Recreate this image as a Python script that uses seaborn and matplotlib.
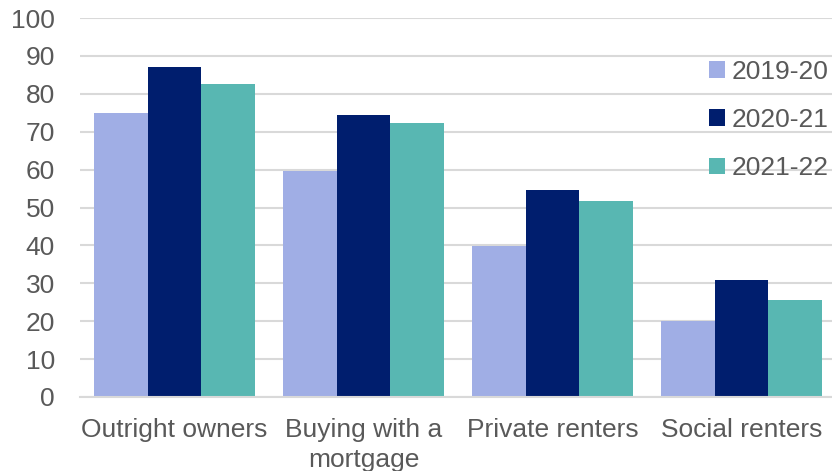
import matplotlib
matplotlib.use("Agg")
import matplotlib.pyplot as plt
import seaborn as sns
import pandas as pd
from matplotlib.patches import Patch

categories = ["Outright owners", "Buying with a\nmortgage", "Private renters", "Social renters"]
years = ["2019-20", "2020-21", "2021-22"]
v2019 = [75.0, 59.6, 39.8, 20.0]
v2020 = [87.0, 74.5, 54.6, 30.9]
v2021 = [82.6, 72.4, 51.8, 25.6]
yticks = [0, 10, 20, 30, 40, 50, 60, 70, 80, 90, 100]
colors = ["#A0AEE5", "#001E6E", "#58B7B2"]

rows = []
for yr, vals in zip(years, [v2019, v2020, v2021]):
    for c, v in zip(categories, vals):
        rows.append({"cat": c, "year": yr, "value": v})
df = pd.DataFrame(rows)

sns.set_theme(style="white")
plt.rcParams["font.family"] = ["Liberation Sans", "DejaVu Sans"]
text_color = "#595959"

fig = plt.figure(figsize=(8.32, 4.71), dpi=100)
ax = fig.add_axes([80 / 832, 1 - 397 / 471, (836 - 80) / 832, (397 - 18) / 471])

sns.barplot(data=df, x="cat", y="value", hue="year", order=categories,
            hue_order=years, palette=colors, width=0.857, gap=0,
            saturation=1, linewidth=0, ax=ax, legend=False)

ax.set_ylim(0, 100)
ax.set_xlim(-0.5, 3.5)
ax.set_yticks(yticks)
ax.set_yticklabels([str(t) for t in yticks])
ax.set_xlabel("")
ax.set_ylabel("")
ax.yaxis.grid(True, color="#D9D9D9", linewidth=1.5)
ax.set_axisbelow(True)
for s in ["left", "right", "top"]:
    ax.spines[s].set_visible(False)
ax.spines["bottom"].set_color("#D9D9D9")
ax.spines["bottom"].set_linewidth(1.5)
ax.tick_params(axis="y", length=0, pad=18, labelsize=19, labelcolor=text_color)
ax.tick_params(axis="x", length=0, pad=15, labelsize=19, labelcolor=text_color)
for lbl in ax.get_xticklabels():
    lbl.set_linespacing(1.32)

handles = [Patch(facecolor=c, edgecolor="none", label=y) for c, y in zip(colors, years)]
fig.legend(handles=handles, loc="center left",
           bbox_to_anchor=(709 / 832, 1 - 120 / 471),
           frameon=False, fontsize=19, labelcolor=text_color,
           handlelength=0.6, handleheight=0.6, handletextpad=0.25,
           labelspacing=0.92, borderpad=0, borderaxespad=0)

fig.savefig("out.png", dpi=100)
